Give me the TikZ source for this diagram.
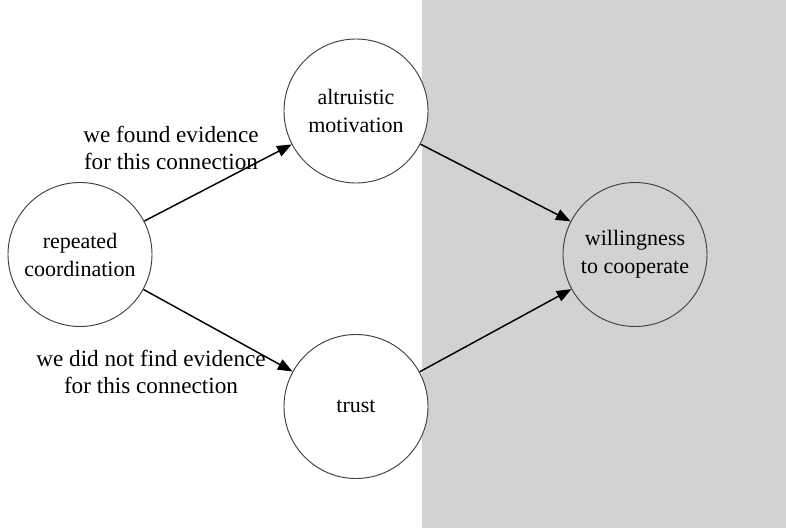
\documentclass[tikz,border=0pt]{standalone}
\usepackage{fontspec}
\setmainfont{Liberation Serif}
\usetikzlibrary{arrows.meta}
\definecolor{bggrey}{RGB}{210,210,210}
\begin{document}
\begin{tikzpicture}[x=0.75pt,y=-0.75pt,
  concept/.style={circle,draw=black!75,line width=0.7pt,fill=white,minimum size=108pt,inner sep=0pt,align=center,font=\fontsize{16.5}{21}\selectfont},
  link/.style={draw=black,line width=1.1pt,-{Triangle[length=11pt,width=8.5pt]}},
  note/.style={align=center,font=\fontsize{17.4}{20.5}\selectfont}]
\useasboundingbox (0,0) rectangle (786,528);
\fill[white] (0,0) rectangle (786,528);
\fill[bggrey] (422,0) rectangle (786,528);
\node[concept] (rep) at (80,254.5) {repeated\\coordination};
\node[concept] (alt) at (356,111) {altruistic\\motivation};
\node[concept] (tru) at (356,406.5) {trust};
\node[concept,fill=bggrey] (wil) at (635,254.5) {willingness\\to cooperate};
\draw[link] (rep) -- (alt);
\draw[link] (rep) -- (tru);
\draw[link] (alt) -- (wil);
\draw[link] (tru) -- (wil);
\node[note] (l1) at (171,148) {we found evidence\\for this connection};
\node[note] (l2) at (151,372) {we did not find evidence\\for this connection};
\end{tikzpicture}
\end{document}
